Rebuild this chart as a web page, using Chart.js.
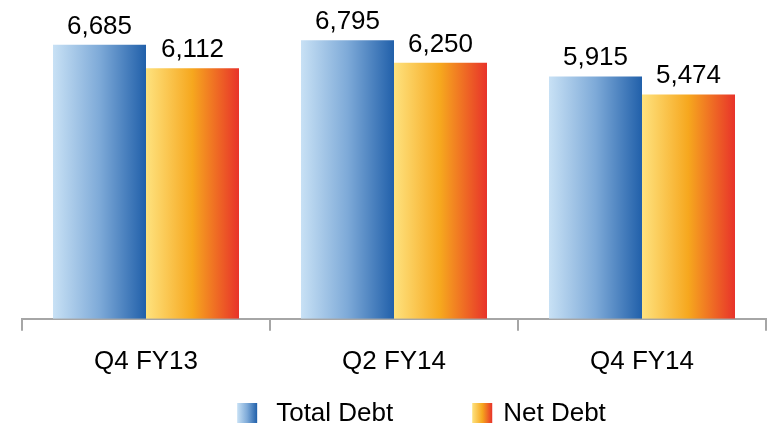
<!DOCTYPE html>
<html>
<head>
<meta charset="utf-8">
<script src="https://cdn.jsdelivr.net/npm/chart.js@4.4.0/dist/chart.umd.min.js"></script>
<style>
  html, body { margin: 0; padding: 0; background: #fff; }
  #wrap { width: 771px; height: 426px; }
</style>
</head>
<body>
<div id="wrap"><canvas id="debtChart"></canvas></div>
<script>
const periods = ['Q4 FY13', 'Q2 FY14', 'Q4 FY14'];
const seriesNames = ['Total Debt', 'Net Debt'];
const totalDebt = [6685, 6795, 5915];
const netDebt = [6112, 6250, 5474];

const FONT = '"Liberation Sans", Arial, sans-serif';
const blueStops = ['#c8e1f5', '#7eaad8', '#2160aa'];
const orangeStops = ['#fee27e', '#f6a71e', '#e8332a'];

function makeGradient(ctx, x0, x1, stops) {
  const g = ctx.createLinearGradient(x0, 0, x1, 0);
  g.addColorStop(0, stops[0]);
  g.addColorStop(0.5, stops[1]);
  g.addColorStop(1, stops[2]);
  return g;
}

// each bar gets its own horizontal gradient
const gradientBars = {
  id: 'gradientBars',
  beforeDatasetsDraw(chart) {
    const ctx = chart.ctx;
    chart.data.datasets.forEach((ds, i) => {
      const stops = i === 0 ? blueStops : orangeStops;
      chart.getDatasetMeta(i).data.forEach(bar => {
        const fill = makeGradient(ctx, bar.x - bar.width / 2, bar.x + bar.width / 2, stops);
        bar.options = Object.assign({}, bar.options, { backgroundColor: fill });
      });
    });
  }
};

const valueLabels = {
  id: 'valueLabels',
  afterDatasetsDraw(chart) {
    const ctx = chart.ctx;
    ctx.save();
    ctx.font = '26px ' + FONT;
    ctx.fillStyle = '#000';
    ctx.textAlign = 'center';
    ctx.textBaseline = 'alphabetic';
    chart.data.datasets.forEach((ds, i) => {
      chart.getDatasetMeta(i).data.forEach((bar, j) => {
        ctx.fillText(ds.data[j].toLocaleString('en-US'), bar.x, bar.y - 11);
      });
    });
    ctx.restore();
  }
};

// legend row at the bottom, drawn by hand for the wide spacing
const bottomLegend = {
  id: 'bottomLegend',
  afterDraw(chart) {
    const ctx = chart.ctx;
    ctx.save();
    ctx.font = '26px ' + FONT;
    ctx.textBaseline = 'middle';
    ctx.textAlign = 'left';
    const box = 20, textGaps = [19, 11], itemGap = 79, cy = 413;
    const widths = seriesNames.map(n => ctx.measureText(n).width);
    const total = widths.reduce((a, w, i) => a + box + textGaps[i] + w, 0) + itemGap;
    let x = (chart.width - total) / 2 + 36;
    seriesNames.forEach((name, i) => {
      ctx.fillStyle = makeGradient(ctx, x, x + box, i === 0 ? blueStops : orangeStops);
      ctx.fillRect(x, cy - box / 2, box, box);
      ctx.fillStyle = '#000';
      ctx.fillText(name, x + box + textGaps[i], cy + 1);
      x += box + textGaps[i] + widths[i] + itemGap;
    });
    ctx.restore();
  }
};

new Chart(document.getElementById('debtChart'), {
  type: 'bar',
  data: {
    labels: periods,
    datasets: [
      { label: seriesNames[0], data: totalDebt, backgroundColor: '#5b8fd0' },
      { label: seriesNames[1], data: netDebt, backgroundColor: '#f6a71e' }
    ]
  },
  options: {
    responsive: true,
    maintainAspectRatio: false,
    animation: false,
    layout: { padding: { left: 22, right: 5, top: 0, bottom: 34 } },
    datasets: { bar: { categoryPercentage: 0.75, barPercentage: 1 } },
    scales: {
      y: { display: false, min: 0, max: 7780 },
      x: {
        grid: { offset: true, drawOnChartArea: false, tickLength: 12, color: '#a6a6a6', lineWidth: 2 },
        border: { color: '#a6a6a6', width: 2 },
        ticks: { color: '#000', font: { size: 26, family: FONT }, padding: 15 }
      }
    },
    plugins: {
      tooltip: { enabled: false },
      legend: { display: false }
    }
  },
  plugins: [gradientBars, valueLabels, bottomLegend]
});
</script>
</body>
</html>
